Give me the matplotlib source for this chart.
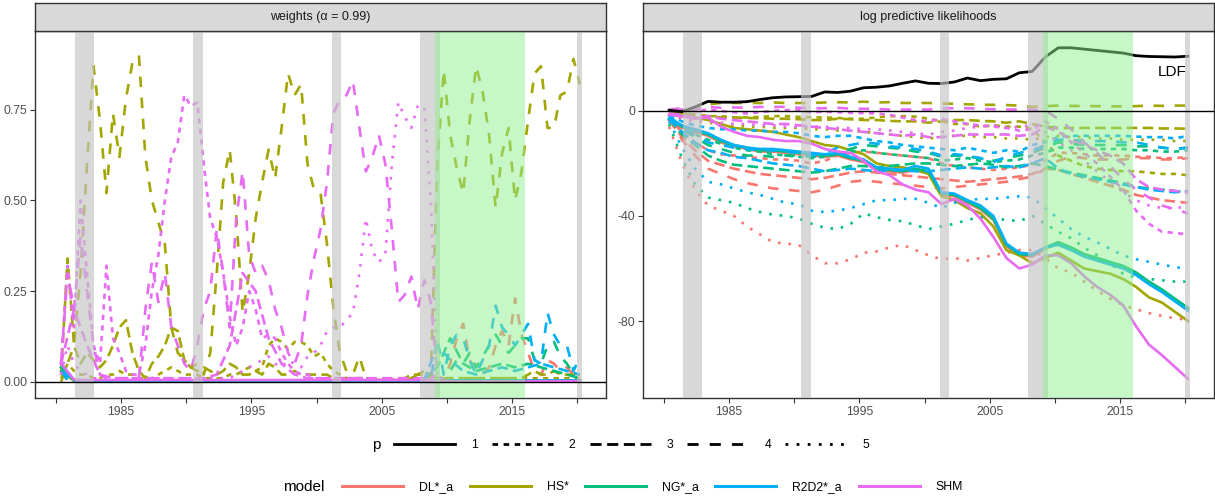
import numpy as np
import matplotlib.pyplot as plt
from matplotlib.lines import Line2D

plt.rcParams['font.family'] = ['Liberation Sans', 'DejaVu Sans']
plt.rcParams['axes.unicode_minus'] = False

# time grids (decimal years, 1980Q2 .. 2020Q1)
t_w = np.linspace(1980.4, 2020.2, 81)   # half-yearly readings (weights)
t_l = np.linspace(1980.4, 2020.2, 41)   # yearly readings

models = ['DL*_a', 'HS*', 'NG*_a', 'R2D2*_a', 'SHM']
colors = ['#F8766D', '#A3A500', '#00BF7D', '#00B0F6', '#E76BF3']
p_levels = ['1', '2', '3', '4', '5']
p_styles = ['-', (0, (2, 2)), (0, (4, 2)), (0, (4, 4)), (0, (1, 3))]

recessions = [(1981.5, 1982.9), (1990.5, 1991.25), (2001.17, 2001.9),
              (2007.92, 2009.5), (2020.0, 2020.38)]
zlb = (2009.1, 2015.95)

# ---- weights (alpha = 0.99), half-yearly ----
w_hs4 = [0.00, 0.05, 0.10, 0.30, 0.60, 0.87, 0.72, 0.52,
         0.74, 0.62, 0.78, 0.88, 0.90, 0.62, 0.50, 0.44,
         0.38, 0.15, 0.08, 0.06, 0.04, 0.05, 0.02, 0.08,
         0.30, 0.55, 0.64, 0.46, 0.19, 0.30, 0.45, 0.55,
         0.64, 0.56, 0.70, 0.85, 0.79, 0.82, 0.60, 0.53,
         0.52, 0.38, 0.20, 0.08, 0.03, 0.02, 0.07, 0.01,
         0.005, 0.005, 0.005, 0.005, 0.005, 0.005, 0.01, 0.02,
         0.03, 0.01, 0.60, 0.86, 0.68, 0.59, 0.52, 0.72,
         0.87, 0.80, 0.68, 0.48, 0.63, 0.70, 0.50, 0.58,
         0.72, 0.85, 0.87, 0.70, 0.70, 0.79, 0.80, 0.89,
         0.82]
w_hs3 = [0.02, 0.34, 0.10, 0.05, 0.08, 0.06, 0.04, 0.06,
         0.10, 0.15, 0.17, 0.08, 0.03, 0.01, 0.05, 0.07,
         0.10, 0.15, 0.14, 0.06, 0.04, 0.03, 0.04, 0.03,
         0.02, 0.03, 0.05, 0.04, 0.02, 0.02, 0.03, 0.02,
         0.05, 0.04, 0.02, 0.02, 0.03, 0.02, 0.02, 0.02,
         0.02, 0.02, 0.01, 0.01, 0.01, 0.01, 0.01, 0.01,
         0.005, 0.005, 0.005, 0.005, 0.01, 0.01, 0.02, 0.02,
         0.03, 0.02, 0.01, 0.01, 0.01, 0.01, 0.01, 0.01,
         0.01, 0.01, 0.01, 0.01, 0.01, 0.01, 0.01, 0.01,
         0.02, 0.03, 0.02, 0.02, 0.03, 0.02, 0.02, 0.02,
         0.02]
w_hs2 = [0.01, 0.05, 0.03, 0.02, 0.02, 0.01, 0.01, 0.02,
         0.02, 0.03, 0.02, 0.02, 0.01, 0.01, 0.01, 0.02,
         0.03, 0.04, 0.03, 0.02, 0.02, 0.02, 0.01, 0.01,
         0.01, 0.01, 0.02, 0.02, 0.03, 0.04, 0.03, 0.04,
         0.10, 0.12, 0.11, 0.09, 0.11, 0.11, 0.10, 0.07,
         0.08, 0.05, 0.03, 0.02, 0.01, 0.01, 0.01, 0.01,
         0.005, 0.005, 0.005, 0.005, 0.005, 0.005, 0.01, 0.02,
         0.02, 0.01, 0.01, 0.01, 0.01, 0.01, 0.01, 0.01,
         0.01, 0.01, 0.01, 0.01, 0.01, 0.01, 0.01, 0.01,
         0.01, 0.01, 0.01, 0.01, 0.01, 0.01, 0.01, 0.01,
         0.01]
w_shm4 = [0.05, 0.30, 0.20, 0.40, 0.25, 0.10, 0.02, 0.01,
          0.01, 0.01, 0.01, 0.01, 0.01, 0.20, 0.33, 0.22,
          0.30, 0.15, 0.10, 0.05, 0.03, 0.10, 0.20, 0.25,
          0.42, 0.30, 0.15, 0.45, 0.58, 0.35, 0.30, 0.32,
          0.28, 0.20, 0.15, 0.08, 0.05, 0.10, 0.24, 0.34,
          0.42, 0.55, 0.74, 0.78, 0.79, 0.83, 0.70, 0.58,
          0.62, 0.68, 0.60, 0.42, 0.22, 0.24, 0.29, 0.20,
          0.28, 0.22, 0.02, 0.005, 0.002, 0.002, 0.001, 0.001,
          0.001, 0.001, 0.001, 0.001, 0.001, 0.001, 0.001, 0.001,
          0.001, 0.001, 0.001, 0.001, 0.001, 0.001, 0.001, 0.001,
          0.001]
w_shm2 = [0.05, 0.32, 0.15, 0.50, 0.30, 0.10, 0.05, 0.32,
          0.12, 0.08, 0.03, 0.02, 0.02, 0.10, 0.25, 0.35,
          0.50, 0.62, 0.66, 0.79, 0.76, 0.77, 0.60, 0.45,
          0.40, 0.30, 0.18, 0.10, 0.15, 0.25, 0.20, 0.12,
          0.13, 0.12, 0.08, 0.05, 0.03, 0.02, 0.02, 0.01,
          0.01, 0.01, 0.01, 0.01, 0.01, 0.01, 0.01, 0.01,
          0.005, 0.005, 0.005, 0.005, 0.005, 0.005, 0.005, 0.005,
          0.005, 0.01, 0.02, 0.001, 0.001, 0.001, 0.001, 0.001,
          0.001, 0.001, 0.001, 0.001, 0.001, 0.001, 0.001, 0.001,
          0.001, 0.001, 0.001, 0.001, 0.001, 0.001, 0.001, 0.001,
          0.001]
w_shm5 = [0.02, 0.10, 0.05, 0.03, 0.02, 0.01, 0.01, 0.01,
          0.01, 0.01, 0.01, 0.01, 0.01, 0.01, 0.01, 0.01,
          0.01, 0.01, 0.01, 0.01, 0.01, 0.01, 0.01, 0.01,
          0.01, 0.01, 0.01, 0.02, 0.03, 0.04, 0.05, 0.06,
          0.07, 0.05, 0.04, 0.06, 0.05, 0.04, 0.07, 0.08,
          0.10, 0.14, 0.15, 0.15, 0.17, 0.19, 0.30, 0.45,
          0.36, 0.33, 0.35, 0.60, 0.77, 0.73, 0.70, 0.76,
          0.76, 0.50, 0.02, 0.005, 0.001, 0.001, 0.001, 0.001,
          0.001, 0.001, 0.001, 0.001, 0.001, 0.001, 0.001, 0.001,
          0.001, 0.001, 0.001, 0.001, 0.001, 0.001, 0.001, 0.001,
          0.001]
w_r2d24 = [0.03, 0.005, 0.002, 0.002, 0.002, 0.002, 0.002, 0.002,
           0.002, 0.002, 0.002, 0.002, 0.002, 0.002, 0.002, 0.002,
           0.002, 0.002, 0.002, 0.002, 0.002, 0.002, 0.002, 0.002,
           0.002, 0.002, 0.002, 0.002, 0.002, 0.002, 0.002, 0.002,
           0.002, 0.002, 0.002, 0.002, 0.002, 0.002, 0.002, 0.002,
           0.002, 0.002, 0.002, 0.002, 0.002, 0.002, 0.002, 0.002,
           0.002, 0.002, 0.002, 0.002, 0.002, 0.002, 0.002, 0.002,
           0.002, 0.005, 0.12, 0.02, 0.10, 0.13, 0.12, 0.06,
           0.02, 0.06, 0.10, 0.21, 0.15, 0.13, 0.10, 0.13,
           0.16, 0.06, 0.05, 0.19, 0.13, 0.10, 0.10, 0.03,
           0.07]
w_dl4 = [0.03, 0.005, 0.001, 0.001, 0.001, 0.001, 0.001, 0.001,
         0.001, 0.001, 0.001, 0.001, 0.001, 0.001, 0.001, 0.001,
         0.001, 0.001, 0.001, 0.001, 0.001, 0.001, 0.001, 0.001,
         0.001, 0.001, 0.001, 0.001, 0.001, 0.001, 0.001, 0.001,
         0.001, 0.001, 0.001, 0.001, 0.001, 0.001, 0.001, 0.001,
         0.001, 0.001, 0.001, 0.001, 0.001, 0.001, 0.001, 0.001,
         0.001, 0.001, 0.001, 0.001, 0.001, 0.001, 0.001, 0.001,
         0.001, 0.001, 0.001, 0.001, 0.05, 0.12, 0.16, 0.06,
         0.03, 0.02, 0.04, 0.10, 0.14, 0.10, 0.23, 0.13,
         0.08, 0.03, 0.02, 0.06, 0.05, 0.03, 0.04, 0.02,
         0.01]
w_ng4 = [0.03, 0.005, 0.001, 0.001, 0.001, 0.001, 0.001, 0.001,
         0.001, 0.001, 0.001, 0.001, 0.001, 0.001, 0.001, 0.001,
         0.001, 0.001, 0.001, 0.001, 0.001, 0.001, 0.001, 0.001,
         0.001, 0.001, 0.001, 0.001, 0.001, 0.001, 0.001, 0.001,
         0.001, 0.001, 0.001, 0.001, 0.001, 0.001, 0.001, 0.001,
         0.001, 0.001, 0.001, 0.001, 0.001, 0.001, 0.001, 0.001,
         0.001, 0.001, 0.001, 0.001, 0.001, 0.001, 0.001, 0.001,
         0.001, 0.001, 0.001, 0.001, 0.03, 0.06, 0.05, 0.08,
         0.04, 0.07, 0.10, 0.13, 0.10, 0.08, 0.10, 0.12,
         0.12, 0.06, 0.05, 0.10, 0.11, 0.07, 0.05, 0.02,
         0.02]

# ---- weights, yearly (mostly near zero) ----
w_dl1 = [0.04, 0.003, 0.002, 0.002, 0.002, 0.002, 0.002, 0.002, 0.002, 0.002,
         0.002, 0.002, 0.002, 0.002, 0.002, 0.002, 0.002, 0.002, 0.002, 0.002,
         0.002, 0.002, 0.002, 0.002, 0.002, 0.002, 0.002, 0.002, 0.002, 0.003,
         0.003, 0.003, 0.003, 0.003, 0.003, 0.003, 0.003, 0.003, 0.003, 0.003,
         0.003]
w_hs1 = [0.03, 0.003, 0.002, 0.002, 0.002, 0.002, 0.002, 0.002, 0.002, 0.002,
         0.002, 0.002, 0.002, 0.002, 0.002, 0.002, 0.002, 0.002, 0.002, 0.002,
         0.002, 0.002, 0.002, 0.002, 0.002, 0.002, 0.002, 0.002, 0.002, 0.002,
         0.002, 0.002, 0.002, 0.002, 0.002, 0.002, 0.002, 0.002, 0.002, 0.002,
         0.002]
w_ng1 = [0.04, 0.004, 0.002, 0.002, 0.002, 0.002, 0.002, 0.002, 0.002, 0.002,
         0.002, 0.002, 0.002, 0.002, 0.002, 0.002, 0.002, 0.002, 0.002, 0.002,
         0.002, 0.002, 0.002, 0.002, 0.002, 0.002, 0.002, 0.002, 0.002, 0.004,
         0.004, 0.004, 0.004, 0.004, 0.004, 0.004, 0.004, 0.004, 0.004, 0.004,
         0.004]
w_r2d21 = [0.05, 0.005, 0.003, 0.003, 0.003, 0.003, 0.003, 0.003, 0.003, 0.003,
           0.003, 0.003, 0.003, 0.003, 0.003, 0.003, 0.003, 0.003, 0.003, 0.003,
           0.003, 0.003, 0.003, 0.003, 0.003, 0.003, 0.003, 0.003, 0.003, 0.004,
           0.004, 0.004, 0.004, 0.004, 0.004, 0.004, 0.004, 0.004, 0.004, 0.004,
           0.004]
w_shm1 = [0.05, 0.006, 0.005, 0.005, 0.005, 0.005, 0.005, 0.005, 0.005, 0.005,
          0.005, 0.005, 0.005, 0.005, 0.005, 0.005, 0.005, 0.005, 0.005, 0.005,
          0.005, 0.005, 0.005, 0.005, 0.005, 0.005, 0.005, 0.005, 0.005, 0.003,
          0.002, 0.002, 0.002, 0.002, 0.002, 0.002, 0.002, 0.002, 0.002, 0.002,
          0.002]
w_ng3 = [0.03, 0.005, 0.003, 0.003, 0.003, 0.003, 0.003, 0.003, 0.003, 0.003,
         0.003, 0.003, 0.003, 0.003, 0.003, 0.003, 0.003, 0.003, 0.003, 0.003,
         0.003, 0.003, 0.003, 0.003, 0.003, 0.003, 0.003, 0.003, 0.005, 0.04,
         0.12, 0.05, 0.03, 0.04, 0.05, 0.04, 0.05, 0.04, 0.03, 0.02,
         0.01]
w_r2d23 = [0.03, 0.005, 0.003, 0.003, 0.003, 0.003, 0.003, 0.003, 0.003, 0.003,
           0.003, 0.003, 0.003, 0.003, 0.003, 0.003, 0.003, 0.003, 0.003, 0.003,
           0.003, 0.003, 0.003, 0.003, 0.003, 0.003, 0.003, 0.003, 0.005, 0.10,
           0.06, 0.03, 0.02, 0.03, 0.04, 0.03, 0.04, 0.05, 0.04, 0.03,
           0.02]
w_shm3 = [0.05, 0.20, 0.10, 0.02, 0.01, 0.01, 0.01, 0.01, 0.01, 0.01,
          0.01, 0.01, 0.02, 0.10, 0.30, 0.25, 0.12, 0.05, 0.02, 0.01,
          0.01, 0.01, 0.01, 0.01, 0.01, 0.01, 0.01, 0.01, 0.01, 0.002,
          0.001, 0.001, 0.001, 0.001, 0.001, 0.001, 0.001, 0.001, 0.001, 0.001,
          0.001]

# ---- log predictive likelihoods, yearly ----
ldf = [0.2, -0.3, 1.5, 3.6, 3.3, 3.3, 3.5, 4.3, 5.0, 5.3,
       5.4, 5.5, 7.2, 7.0, 7.5, 8.8, 9.0, 9.5, 10.5, 11.4,
       10.5, 10.4, 11.0, 12.5, 11.5, 12.0, 12.2, 14.5, 15.0, 20.5,
       24.0, 24.0, 23.5, 23.0, 22.5, 22.0, 21.0, 20.7, 20.6, 20.5,
       20.8]

l_dl1 = [-3.5, -6.5, -8, -9.5, -12, -13.5, -14.5, -15.5, -15.5, -16,
         -16.5, -17, -17.5, -17, -18.5, -19.5, -22.5, -23, -23.5, -22.5,
         -23.5, -32, -32.5, -35, -37.5, -41.5, -51.5, -55, -55.5, -52.5,
         -50.5, -52.5, -55, -56.5, -58, -59.5, -62, -65.5, -68.5, -72,
         -75.5]
l_dl2 = [-3, -8, -12, -15, -16.5, -17, -17.5, -18, -18.5, -18.5,
         -19, -20, -19, -17, -16, -15.5, -16, -16.5, -17, -17.5,
         -18, -20, -21, -21.5, -22, -22.5, -22, -21.5, -20.5, -19,
         -16, -16, -16.5, -17, -17, -17, -17.5, -17.5, -18, -18,
         -17.5]
l_dl3 = [-3.5, -10, -15, -19, -20.5, -22, -23, -24, -24.5, -25,
         -25.5, -26, -25.5, -24.5, -23.5, -23, -23.5, -24, -24.5, -25,
         -25.5, -26, -26.5, -27, -26.5, -26, -25.5, -25, -24, -22,
         -22.5, -24, -25.5, -27, -28.5, -30, -32, -33, -34, -34.5,
         -35]
l_dl4 = [-3, -11, -17, -22, -24, -26, -27.5, -28.5, -29.5, -30,
         -30.5, -31, -30, -28.5, -27, -26.5, -27, -27.5, -28, -28.5,
         -29, -29.5, -29, -28.5, -28, -27.5, -27, -26, -25, -22,
         -19, -17.5, -18, -18.5, -18.5, -18.5, -18, -18, -18.5, -18.5,
         -18]
l_dl5 = [-6, -20, -30, -36, -38, -40, -44, -47, -50, -50.5,
         -51, -55, -58, -58, -56.5, -54, -53.5, -52, -51, -53,
         -55, -56.5, -56, -57, -56, -55, -54, -53, -53, -56,
         -60, -61.5, -65, -68.5, -71.5, -74, -75.5, -77, -78, -79,
         -79.5]

l_hs1 = [-1.5, -2, -2.5, -3.5, -5, -6.5, -7, -7.5, -8, -9,
         -10, -11.5, -13, -13.5, -15, -16.5, -20, -21, -21.5, -22.5,
         -24, -32.5, -34, -37, -39, -44, -53, -55, -58, -56,
         -54, -57, -60, -61, -62, -64, -67, -71, -73, -76.5,
         -80]
l_hs2 = [-0.5, -1, -1.5, -2, -2, -2.5, -2.5, -2.3, -2, -2,
         -2.3, -2.5, -2.5, -2.7, -3, -3, -2.5, -2, -2, -2.2,
         -3, -4, -5, -5, -6, -5.5, -6, -6, -7, -12,
         -17, -19, -21, -22, -22.5, -23, -23, -23.5, -24, -24,
         -24.5]
l_hs3 = [-0.5, -1, -1.5, -2, -2.5, -2.5, -2.7, -2.8, -3, -3,
         -3.2, -3.5, -3.5, -3, -3.2, -3.5, -3.5, -3.8, -4, -4,
         -4.5, -4, -3.5, -3.5, -3.8, -4, -4.5, -4, -5, -6,
         -6.5, -6.5, -6.5, -6.5, -6.5, -6.5, -6.5, -6.5, -6.7, -6.7,
         -6.8]
l_hs4 = [0, 0.5, 1, 2.5, 3, 3, 3, 3, 3.2, 3,
         3, 3, 3.2, 3.3, 3.2, 3.5, 3.2, 3.3, 3, 3,
         3, 2.8, 2.7, 2.5, 2.3, 2.3, 2.2, 2, 1.5, 1.8,
         2, 1.9, 1.8, 1.8, 1.7, 1.7, 1.8, 2, 1.9, 2,
         2]
l_hs5 = [-1, -3, -4, -4.5, -5, -5.5, -6, -6, -6.5, -6.5,
         -6.5, -7, -7, -7.5, -7.5, -8, -8.5, -9, -9.5, -10,
         -10.5, -10, -9.5, -9.5, -10, -10, -10.5, -10.5, -11, -10,
         -9.5, -10, -10, -10.5, -10.5, -11, -11, -11, -11, -11.5,
         -11.5]

l_ng1 = [-3, -6, -7.5, -9, -11.5, -13, -14, -15, -15, -15.5,
         -16, -16.5, -17, -16.5, -18, -19, -22, -22.5, -23, -22,
         -23, -31.5, -32, -34.5, -37, -41, -51, -54.5, -55, -52,
         -50, -52, -54.5, -56, -57.5, -59, -61.5, -65, -68, -71.5,
         -75]
l_ng2 = [-2.5, -6, -9, -11, -12.5, -14, -15, -15.5, -16.5, -17,
         -17.5, -18, -17.5, -16.5, -15.5, -15, -16, -16.5, -17, -17.5,
         -18, -19, -18.5, -18, -19, -19.5, -19, -18.5, -17, -16,
         -14, -14, -14.5, -14.5, -14.5, -14.5, -15, -15, -15.5, -15.5,
         -15]
l_ng3 = [-3, -9, -13, -17, -19, -20.5, -21, -21.5, -22, -22.5,
         -23, -23.5, -23, -22, -21, -21, -21.5, -21, -20.5, -20,
         -20, -20.5, -21, -20.5, -20, -20.5, -21.5, -21, -20, -21,
         -22.5, -23.5, -24.5, -25.5, -26.5, -27.5, -29, -29.5, -30, -30.5,
         -31]
l_ng4 = [-2, -7, -10, -13, -14.5, -16, -17, -17, -17.5, -17,
         -17, -17.5, -17, -16, -14.5, -13, -13.5, -14, -14.5, -15.5,
         -16, -17.5, -17, -17.5, -18, -19, -18, -17, -16, -14,
         -12, -12.5, -13, -13, -13, -13, -13.5, -13.5, -14, -14.5,
         -14]
l_ng5 = [-5, -18, -28, -33, -34, -35, -37, -38.5, -39.5, -40,
         -41, -43, -44.5, -45, -43, -39, -40.5, -41.5, -42, -43.5,
         -45, -44, -43, -41.5, -40.5, -41, -41.5, -42, -40, -43,
         -46, -48.5, -52, -55, -58, -62, -63.5, -64, -64.5, -65,
         -65]

l_r2d21 = [-3, -5.5, -7, -8.5, -11, -13, -14, -14.5, -14.5, -15,
           -15.5, -16, -16.5, -16, -17.5, -18.5, -21.5, -22, -22.5, -21,
           -22, -31, -31.5, -34, -36, -40, -50.5, -54, -54.5, -52,
           -51, -53, -55.5, -57, -58.5, -60, -62.5, -66, -69, -72.5,
           -76]
l_r2d22 = [-2, -4, -5.5, -6.5, -7, -7, -7.5, -7.5, -8, -8,
           -8.5, -9.5, -10, -9.5, -9.5, -10.5, -11.5, -12, -13, -13.5,
           -14, -14.5, -15, -14, -15, -16, -15, -15.5, -13, -12,
           -10, -9.5, -9.5, -9.5, -9.5, -9.5, -9.8, -10, -10, -10.5,
           -9.5]
l_r2d23 = [-3, -8, -12, -15, -16, -17.5, -18, -19, -20, -20.5,
           -21, -22, -23, -22.5, -22, -22.5, -23, -22.5, -22.5, -23,
           -23, -22.5, -22, -21.5, -22, -21.5, -21, -21.5, -20, -18,
           -22, -24, -25, -26, -27, -28, -29, -30, -30.5, -31,
           -30.5]
l_r2d24 = [-2, -6, -9, -12, -13, -14, -14.5, -15, -15, -15.5,
           -16, -17, -16, -14, -13, -12, -12.5, -13.5, -14, -14.5,
           -15.5, -17, -16.5, -17, -18, -19.5, -17.5, -16, -15, -13,
           -11, -11, -11.5, -11.5, -11.5, -12, -12, -13, -14, -14.5,
           -14]
l_r2d25 = [-4, -14, -22, -27, -28, -29.5, -31, -32, -33.5, -35,
           -35.5, -38, -38.5, -38, -37, -35.5, -34, -34, -33.5, -33.5,
           -35, -37, -35, -34, -33.5, -33.5, -33, -32.5, -33, -37,
           -41, -45, -48, -50, -52.5, -55, -56.5, -57.5, -58.5, -59.5,
           -60]

l_shm1 = [-1.5, -2, -3, -2.5, -6, -8, -9.5, -10, -11, -11.5,
          -11.5, -12.5, -14.5, -15.5, -16, -19, -23, -24.5, -28, -30,
          -31, -35.5, -33.5, -36, -41, -48, -56, -60, -58.5, -55,
          -55, -58, -63, -67, -70, -74, -82, -89, -93, -97.5,
          -102]
l_shm2 = [0.5, 0.5, 0, 0.5, 0, -0.5, -1, -0.5, 0, 0.3,
          0.3, -0.5, -0.3, -0.5, -0.7, -0.8, -1, -1.5, -2.5, -3.5,
          -4, -3, -4, -5, -5.5, -6, -6.5, -7.5, -7, -4,
          -7, -12, -16, -20, -25, -30, -38, -43, -46, -46.5,
          -47]
l_shm3 = [-1, -1.5, -2.5, -2, -3, -3.5, -4, -4.5, -5, -5,
          -5.5, -6, -6.5, -7, -7.5, -8, -8.5, -9, -9.5, -9,
          -10, -10, -9.5, -9, -9, -9, -9, -9.5, -9, -6,
          -8, -11, -13, -15, -17, -20, -26, -29, -30, -30.5,
          -31]
l_shm4 = [0.5, 1, 0.5, 1.5, 1.2, 1.3, 1.2, 1.5, 1.5, 1.5,
          1.2, 1, 1, 1.2, 0.8, 0.8, 0.7, 0.5, 0.5, 0.5,
          0.5, 1, 1, 1, 0.8, 0.6, 0.5, 0.5, 0.5, 0,
          -3, -7, -12, -16, -21, -26, -30, -33, -36, -37.5,
          -39]
l_shm5 = [-1, -3, -4, -4, -4.5, -5, -5, -5.5, -5.5, -6,
          -6, -6, -6, -6.5, -6.5, -7, -7, -7.5, -8, -8.5,
          -9, -8, -7.5, -6.5, -6, -5.5, -6.5, -6, -5.5, -8,
          -12, -15, -19, -23, -27, -31, -34, -36, -37, -37,
          -36.5]

# (time, values, model index, p index)
w_series = [
    (t_l, w_dl1, 0, 0), (t_w, w_dl4, 0, 3),
    (t_l, w_hs1, 1, 0), (t_w, w_hs2, 1, 1), (t_w, w_hs3, 1, 2), (t_w, w_hs4, 1, 3),
    (t_l, w_ng1, 2, 0), (t_l, w_ng3, 2, 2), (t_w, w_ng4, 2, 3),
    (t_l, w_r2d21, 3, 0), (t_l, w_r2d23, 3, 2), (t_w, w_r2d24, 3, 3),
    (t_l, w_shm1, 4, 0), (t_w, w_shm2, 4, 1), (t_l, w_shm3, 4, 2),
    (t_w, w_shm4, 4, 3), (t_w, w_shm5, 4, 4),
]
lpl = [[l_dl1, l_dl2, l_dl3, l_dl4, l_dl5],
       [l_hs1, l_hs2, l_hs3, l_hs4, l_hs5],
       [l_ng1, l_ng2, l_ng3, l_ng4, l_ng5],
       [l_r2d21, l_r2d22, l_r2d23, l_r2d24, l_r2d25],
       [l_shm1, l_shm2, l_shm3, l_shm4, l_shm5]]
l_series = [(t_l, lpl[m][p], m, p) for m in range(5) for p in range(5)]

W, H = 1215, 498
fig = plt.figure(figsize=(W / 100, H / 100), dpi=100)
ax_w = fig.add_axes([35 / W, 100 / H, 571 / W, 367 / H])
ax_l = fig.add_axes([643 / W, 100 / H, 571 / W, 367 / H])
st_w = fig.add_axes([35 / W, 467 / H, 571 / W, 28 / H])
st_l = fig.add_axes([643 / W, 467 / H, 571 / W, 28 / H])

for st, title in [(st_w, 'weights (α = 0.99)'), (st_l, 'log predictive likelihoods')]:
    st.set_facecolor('#D9D9D9')
    st.set_xticks([])
    st.set_yticks([])
    for s in st.spines.values():
        s.set_color('#333333')
        s.set_linewidth(1.0)
    st.text(0.5, 0.5, title, ha='center', va='center', fontsize=9, color='#1A1A1A',
            transform=st.transAxes)

for ax, series in [(ax_w, w_series), (ax_l, l_series)]:
    for t, vals, m, p in series:
        ax.plot(t, vals, color=colors[m], ls=p_styles[p], lw=1.9, zorder=2)
    for a, b in recessions:
        ax.axvspan(a, b, color='#C4C4C4', alpha=0.65, lw=0, zorder=3)
    ax.axvspan(zlb[0], zlb[1], color='lightgreen', alpha=0.5, lw=0, zorder=3)
    ax.axhline(0, color='black', lw=1.0, zorder=4)
    ax.set_xlim(1978.4, 2022.2)
    ax.set_xticks([1980, 1985, 1990, 1995, 2000, 2005, 2010, 2015, 2020])
    ax.set_xticklabels(['', '1985', '', '1995', '', '2005', '', '2015', ''])
    ax.tick_params(length=3.5, width=0.8, color='#333333', labelcolor='#4D4D4D',
                   labelsize=8.8, pad=2)
    for s in ax.spines.values():
        s.set_color('#333333')
        s.set_linewidth(1.0)

ax_l.plot(t_l, ldf, color='black', lw=2.0, zorder=2)
ax_l.text(2019.0, 14.8, 'LDF', ha='center', va='center', fontsize=11, color='black', zorder=5)

ax_w.set_ylim(-0.0445, 0.967)
ax_w.set_yticks([0, 0.25, 0.5, 0.75])
ax_w.set_yticklabels(['0.00', '0.25', '0.50', '0.75'])
ax_l.set_ylim(-109.3, 30.4)
ax_l.set_yticks([0, -40, -80])
ax_l.set_yticklabels(['0', '-40', '-80'])

# legends
p_handles = [Line2D([], [], color='black', lw=2.0, ls=s) for s in p_styles]
fig.text(376 / W, 53 / H, 'p', ha='center', va='center', fontsize=11)
fig.legend(p_handles, p_levels, loc='center left', bbox_to_anchor=(394 / W, 53 / H),
           ncol=5, frameon=False, handlelength=5.0, handletextpad=1.3,
           columnspacing=1.15, borderpad=0, borderaxespad=0, fontsize=8.8)

m_handles = [Line2D([], [], color=c, lw=2.2) for c in colors]
fig.text(304 / W, 11 / H, 'model', ha='center', va='center', fontsize=11)
fig.legend(m_handles, models, loc='center left', bbox_to_anchor=(342 / W, 11 / H),
           ncol=5, frameon=False, handlelength=5.0, handletextpad=1.3,
           columnspacing=1.35, borderpad=0, borderaxespad=0, fontsize=8.8)

fig.savefig('out.png', dpi=100)
